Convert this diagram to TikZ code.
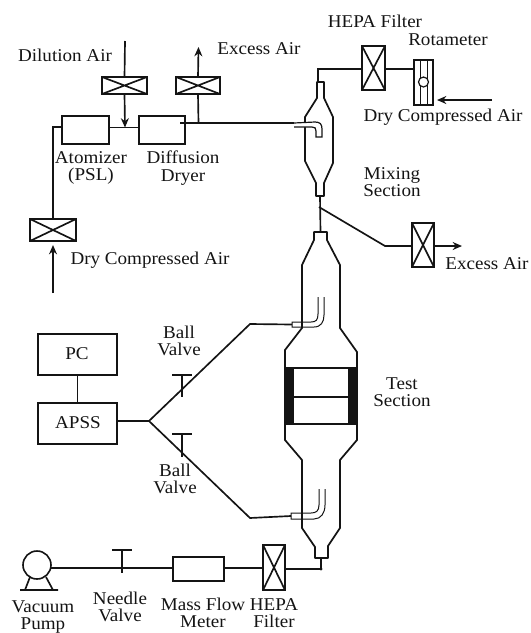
\documentclass[tikz,border=0pt]{standalone}
\usepackage{fontspec}
\setmainfont[FakeStretch=1.06]{Liberation Serif}
\usetikzlibrary{arrows.meta,calc}
\newcommand{\pxbox}[6][]{%
  \pgfmathsetmacro{\cxx}{(#3+#5)/2}\pgfmathsetmacro{\cyy}{(#4+#6)/2}%
  \pgfmathsetmacro{\wdd}{abs(#5-#3)*0.75}\pgfmathsetmacro{\htt}{abs(#6-#4)*0.75}%
  \node[pbox,#1,minimum width=\wdd pt,minimum height=\htt pt] (#2) at (\cxx,\cyy) {};}
\newcommand{\xbox}[5]{\pxbox[thick box]{#1}{#2}{#3}{#4}{#5}
  \draw[pipe] (#1.north west) -- (#1.south east) (#1.north east) -- (#1.south west);}
\tikzset{
  pbox/.style={draw=inkc,fill=white,line width=1.2pt,inner sep=0pt,outer sep=0pt},
  thick box/.style={line width=1.6pt},
  pipe/.style={draw=inkc,line width=1.25pt},
  thinp/.style={draw=inkc,line width=0.75pt},
  arrowp/.style={pipe,-{Stealth[length=7pt,width=6pt]}},
  lbl/.style={text=inkc,font=\fontsize{13.5}{13}\selectfont,inner sep=0pt,align=center},
  vessel/.style={draw=inkc,line width=1.3pt,line join=round},
}
\definecolor{inkc}{gray}{0.08}
\begin{document}
\begin{tikzpicture}[x=0.75pt,y=-0.75pt]
\useasboundingbox (0,0) rectangle (531,633);
% free ends
\coordinate (dilIn) at (125,41);
\coordinate (dilJ) at (125,127.5);
\coordinate (excTop) at (198.5,47);
\coordinate (excJ) at (198.5,123);
\coordinate (dryIn) at (53,293);
\coordinate (atoBend) at (53,127);
\coordinate (dryC) at (492,100);
\coordinate (mixTee) at (319,207);
\coordinate (mixBend) at (385,246);
\coordinate (excR) at (462,246);
\coordinate (junc) at (149,421);
\coordinate (upB) at (250,324);
\coordinate (loB) at (250,518);
\coordinate (upP) at (292,324.5);
\coordinate (loP) at (291,516);
\coordinate (mixIn) at (294,123);
\coordinate (testTop) at (320.5,232);
\coordinate (mixBot) at (320,196);
\coordinate (mixTop) at (318,82);
\coordinate (hepaCorner) at (318,69);
\coordinate (testBot) at (321,558);
\coordinate (botCorner) at (321,569);
% boxes
\pxbox{atom}{62}{116}{109}{144}
\pxbox{dryer}{139}{116}{185}{144}
\xbox{fDil}{102}{77}{147}{94}
\xbox{fExc}{176}{77}{220}{94}
\xbox{fDry}{30}{219}{76}{241}
\xbox{fHepa}{362}{46}{385}{90}
\xbox{fExc2}{412}{223}{434}{267}
\xbox{fBot}{263}{545}{285}{590}
\pxbox{pc}{38}{334}{117}{375}
\pxbox{apss}{38}{403}{117}{444}
\pxbox{mfm}{173}{557}{224}{581}
\pxbox{rota}{414}{60}{433}{105}
% rotameter detail
\draw[thinp] (420,60) -- (420,105) (427,60) -- (427,105);
\node[pbox,circle,minimum size=7.5pt,line width=0.9pt] (ball) at (423.5,82) {};
% connectors top
\draw[pipe] (dilIn) -- (fDil.north);
\draw[arrowp] (fDil.south) -- (dilJ);
\draw[pipe] (atom.east |- dilJ) -- (dryer.west |- dilJ);
\draw[pipe] (180,123) -- (mixIn);
\draw[pipe] (excJ) -- (fExc.south);
\draw[arrowp] (fExc.north) -- (excTop);
\draw[pipe] (atom.west |- atoBend) -- (atoBend) -- (atoBend |- fDry.north);
\draw[arrowp] (dryIn) -- ($(dryIn |- fDry.south)+(0,4)$);
\draw[pipe] (mixTop) -- (hepaCorner) -- (fHepa.west |- hepaCorner);
\draw[pipe] (fHepa.east |- hepaCorner) -- (rota.west |- hepaCorner);
\draw[arrowp] (dryC) -- ($(rota.east |- dryC)+(4,0)$);
% mixing vessel
\draw[vessel] (316,196) -- (316,183) -- (305,161) -- (305,117) -- (317,98) -- (317,82) -- (324,82) -- (324,98) -- (333,117) -- (333,163) -- (324,183) -- (324,196) -- cycle;
% inlet tube
\draw[thinp,fill=white,line width=0.9pt] (mixIn) -- (315,122) .. controls (320,122) and (322,124) .. (322,129) -- (322,137) -- (316,137) -- (316,131) .. controls (316,128) and (315,127) .. (312,127) -- (294,127);
% below mixer
\draw[pipe] (mixBot) -- (testTop);
\draw[pipe] (mixTee) -- (mixBend) -- (fExc2.west |- mixBend);
\draw[arrowp] (fExc2.east |- mixBend) -- (excR);
% test section
\draw[vessel] (314,232) -- (327,232) -- (327,240) -- (340,265) -- (340,328) -- (357,352) -- (357,440) -- (340,460) -- (340,528) -- (328,546) -- (328,558) -- (315,558) -- (315,547) -- (302,528) -- (302,460) -- (285,440) -- (285,350) -- (302,328) -- (302,265) -- (314,240) -- cycle;
\fill[inkc] (285,367) rectangle (294,425);
\fill[inkc] (348,367) rectangle (357,425);
\draw[pipe] (285,368) -- (357,368) (285,397) -- (357,397) (285,424) -- (357,424);
% probes
\draw[thinp] (318,297) -- (318,314) .. controls (318,320) and (316,322) .. (311,322) -- (292,322) -- (292,327) -- (314,327) .. controls (321,327) and (324,322) .. (324,315) -- (324,297);
\draw[thinp] (319,489) -- (319,505) .. controls (319,511) and (316,513) .. (311,513) -- (291,513) -- (291,519) -- (314,519) .. controls (321,519) and (325,513) .. (325,505) -- (325,489);
% sampling lines
\draw[pipe] (apss.east |- junc) -- (junc);
\draw[pipe] (upP) -- (upB) -- (junc) -- (loB) -- (loP);
\draw[pipe] (pc.south) -- (pc.south |- apss.north);
% valves
\coordinate (v1t) at (182,375); \coordinate (v1b) at (182,397);
\coordinate (v2t) at (182,434); \coordinate (v2b) at (182,457);
\coordinate (v3t) at (122,550); \coordinate (v3b) at (122,573);
\draw[thinp,line width=0.9pt] (v1t) -- (v1b) ($(v1t)+(-10,0)$) -- ($(v1t)+(10,0)$);
\draw[thinp,line width=0.9pt] (v2t) -- (v2b) ($(v2t)+(-10,0)$) -- ($(v2t)+(10,0)$);
\draw[thinp,line width=0.9pt] (v3t) -- (v3b) ($(v3t)+(-10,0)$) -- ($(v3t)+(10,0)$);
% pump
\node[pbox,circle,minimum size=21pt] (pump) at (37,565) {};
\coordinate (pl) at (20,590); \coordinate (pr) at (58,590);
\draw[pipe] (pl) -- (pr) (30,577) -- (25,590) (46,577) -- (53,590);
\coordinate (pumpOut) at (51,568);
% bottom line
\draw[pipe] (pumpOut) -- (mfm.west |- pumpOut);
\draw[pipe] (mfm.east |- pumpOut) -- (fBot.west |- pumpOut);
\draw[pipe] (fBot.east |- botCorner) -- (botCorner) -- (testBot);
\fill[inkc] (botCorner) circle (1.6);
% labels
\node[lbl] (t1) at (65,55) {Dilution Air};
\node[lbl] (t2) at (259,49) {Excess Air};
\node[lbl] (t3) at (375,21) {HEPA Filter};
\node[lbl] (t4) at (448,40) {Rotameter};
\node[lbl] (t5) at (443,117) {Dry Compressed Air};
\node[lbl] (t6) at (392,182) {Mixing\\Section};
\node[lbl] (t7) at (487,264) {Excess Air};
\node[lbl] (t8) at (91,168) {Atomizer\\(PSL)};
\node[lbl] (t9) at (183,168) {Diffusion\\Dryer};
\node[lbl] (t10) at (150,260) {Dry Compressed Air};
\node[lbl] (t11) at (179,341) {Ball\\Valve};
\node[lbl] (t12) at (175,479) {Ball\\Valve};
\node[lbl] (t13) at (402,392) {Test\\Section};
\node[lbl] (t14) at (77,354) {PC};
\node[lbl] (t15) at (78,423) {APSS};
\node[lbl] (t16) at (43,617) {Vacuum\\Pump};
\node[lbl] (t17) at (120,607) {Needle\\Valve};
\node[lbl] (t18) at (203,613) {Mass Flow\\Meter};
\node[lbl] (t19) at (274,613) {HEPA\\Filter};
\end{tikzpicture}
\end{document}
